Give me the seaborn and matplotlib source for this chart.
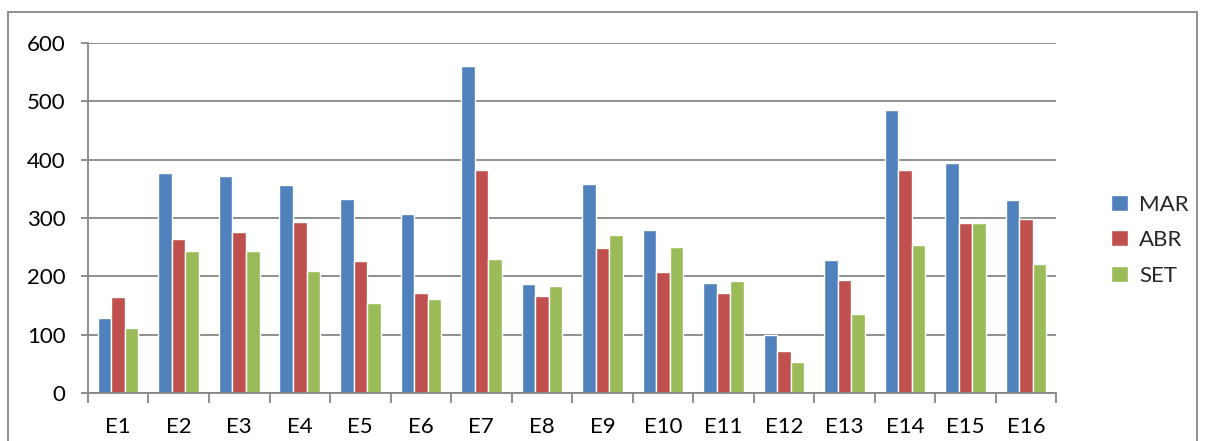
import pandas as pd
import matplotlib.pyplot as plt
import seaborn as sns
from matplotlib.patches import Rectangle
from matplotlib.ticker import MultipleLocator, FixedLocator

categories = ["E1", "E2", "E3", "E4", "E5", "E6", "E7", "E8",
              "E9", "E10", "E11", "E12", "E13", "E14", "E15", "E16"]
mar = [128, 377, 372, 356, 333, 307, 560, 187, 359, 279, 188, 99, 228, 485, 395, 331]
abr = [164, 264, 276, 293, 226, 171, 383, 166, 249, 207, 172, 72, 194, 383, 292, 299]
set_ = [111, 244, 244, 209, 154, 162, 229, 184, 271, 251, 192, 54, 135, 254, 291, 222]
series = ["MAR", "ABR", "SET"]
colors = ["#4F81BD", "#C0504D", "#9BBB59"]

df = pd.DataFrame({"cat": categories, "MAR": mar, "ABR": abr, "SET": set_})
df = df.melt(id_vars="cat", var_name="mes", value_name="valor")

sns.set_style("white")
plt.rcParams["font.family"] = ["Lato", "DejaVu Sans"]

fig = plt.figure(figsize=(12.05, 4.41), dpi=100)
ax = fig.add_axes([0.073, 0.1088, 0.8035, 0.7937])

sns.barplot(data=df, x="cat", y="valor", hue="mes", hue_order=series,
            palette=colors, width=0.67, gap=0, saturation=1, ax=ax)

grid_c = "#868686"
ax.set_ylim(0, 600)
ax.set_xlim(-0.5, len(categories) - 0.5)
ax.yaxis.set_major_locator(MultipleLocator(100))
ax.yaxis.grid(True, color=grid_c, linewidth=1.3)
ax.set_axisbelow(True)
for s in ["top", "right"]:
    ax.spines[s].set_visible(False)
for s in ["left", "bottom"]:
    ax.spines[s].set_color(grid_c)
    ax.spines[s].set_linewidth(1.3)

ax.set_xlabel("")
ax.set_ylabel("")
ax.tick_params(axis="x", length=0, labelsize=16, pad=17, labelcolor="black")
ax.tick_params(axis="y", length=5, color=grid_c, width=1.3, labelsize=16, pad=11,
               left=True, labelcolor="black")
ax.xaxis.set_minor_locator(FixedLocator([i - 0.5 for i in range(len(categories) + 1)]))
ax.tick_params(axis="x", which="minor", length=7, color=grid_c, width=1.3, bottom=True)

# leyenda a la derecha, un poco por debajo del centro
leg = ax.legend(loc="center left", bbox_to_anchor=(1.036, 0.437), frameon=False,
                fontsize=16, handlelength=0.75, handleheight=0.75, handletextpad=0.5,
                labelspacing=0.7)

fig.patches.append(Rectangle((8 / 1205, -0.1), 1189 / 1205, 1.1 - 12 / 441,
                             transform=fig.transFigure, fill=False,
                             edgecolor=grid_c, linewidth=1.3))

fig.savefig("out.png", dpi=100)
